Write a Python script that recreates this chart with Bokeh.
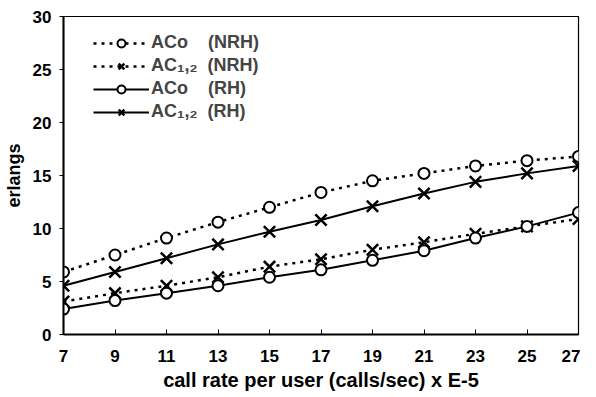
from bokeh.plotting import figure
from bokeh.models import Legend, LegendItem, FixedTicker, Range1d
from bokeh.embed import file_html
from bokeh.resources import INLINE

x = [7, 9, 11, 13, 15, 17, 19, 21, 23, 25, 27]
aco_nrh = [5.9, 7.5, 9.1, 10.6, 12.0, 13.4, 14.5, 15.2, 15.9, 16.4, 16.8]
ac12_nrh = [3.1, 3.9, 4.6, 5.4, 6.4, 7.1, 8.0, 8.7, 9.5, 10.2, 10.9]
aco_rh = [2.4, 3.2, 3.9, 4.6, 5.4, 6.1, 7.0, 7.9, 9.1, 10.2, 11.5]
ac12_rh = [4.6, 5.9, 7.2, 8.5, 9.7, 10.8, 12.1, 13.3, 14.4, 15.2, 15.9]
y_ticks = [0, 5, 10, 15, 20, 25, 30]
labels = ["ACo\u00a0\u00a0\u00a0\u00a0(NRH)", "AC\u2081,\u2082\u00a0\u00a0(NRH)",
          "ACo\u00a0\u00a0\u00a0\u00a0(RH)", "AC\u2081,\u2082\u00a0\u00a0(RH)"]

FONT = "Liberation Sans"
p = figure(width=580, height=393, output_backend="svg", toolbar_location=None,
           x_range=Range1d(7, 27), y_range=Range1d(0, 30),
           min_border_left=63, min_border_right=2, min_border_top=16, min_border_bottom=58)
p.grid.grid_line_color = None
p.outline_line_color = "black"
p.outline_line_width = 1.2
p.background_fill_color = "white"

for ax in (p.xaxis[0], p.yaxis[0]):
    ax.axis_line_color = "black"
    ax.axis_line_width = 2
    ax.major_tick_line_color = "black"
    ax.major_tick_line_width = 1
    ax.minor_tick_line_color = None
    ax.major_label_text_font = FONT
    ax.major_label_text_font_style = "bold"
    ax.major_label_text_font_size = "17px"
    ax.major_label_text_color = "black"
    ax.axis_label_text_font = FONT
    ax.axis_label_text_font_style = "bold"
    ax.axis_label_text_color = "black"

p.xaxis.ticker = FixedTicker(ticks=x)
p.xaxis.major_tick_in = 5
p.xaxis.major_tick_out = 0
p.xaxis.major_label_standoff = 15
p.xaxis.axis_label = "call rate per user (calls/sec) x E-5"
p.xaxis.axis_label_text_font_size = "20px"
p.xaxis.axis_label_standoff = 4
p.yaxis.ticker = FixedTicker(ticks=y_ticks)
p.yaxis.major_tick_in = 0
p.yaxis.major_tick_out = 4
p.yaxis.major_label_standoff = 8
p.yaxis.axis_label = "erlangs"
p.yaxis.axis_label_text_font_size = "18px"
p.yaxis.axis_label_standoff = 6

dot = "3 5"
l1 = p.line(x, aco_nrh, line_color="black", line_width=2.5, line_dash=dot)
m1 = p.scatter(x, aco_nrh, marker="circle", size=11, fill_color="white", line_color="black", line_width=2)
l2 = p.line(x, ac12_nrh, line_color="black", line_width=2.5, line_dash=dot)
m2 = p.scatter(x, ac12_nrh, marker="x", size=16, line_color="black", line_width=2.5)
l3 = p.line(x, aco_rh, line_color="black", line_width=2)
m3 = p.scatter(x, aco_rh, marker="circle", size=11, fill_color="white", line_color="black", line_width=2)
l4 = p.line(x, ac12_rh, line_color="black", line_width=2)
m4 = p.scatter(x, ac12_rh, marker="x", size=16, line_color="black", line_width=2.5)

legend = Legend(items=[
    LegendItem(label=labels[0], renderers=[l1, m1]),
    LegendItem(label=labels[1], renderers=[l2, m2]),
    LegendItem(label=labels[2], renderers=[l3, m3]),
    LegendItem(label=labels[3], renderers=[l4, m4]),
], location=(30, 212))
legend.border_line_color = None
legend.background_fill_alpha = 0
legend.label_text_font = FONT
legend.label_text_font_style = "bold"
legend.label_text_font_size = "18px"
legend.glyph_width = 56
legend.glyph_height = 20
legend.label_height = 20
legend.spacing = 2
legend.label_standoff = 2
legend.margin = 0
legend.padding = 6
p.add_layout(legend)

open("out.html", "w").write(file_html(p, INLINE))
